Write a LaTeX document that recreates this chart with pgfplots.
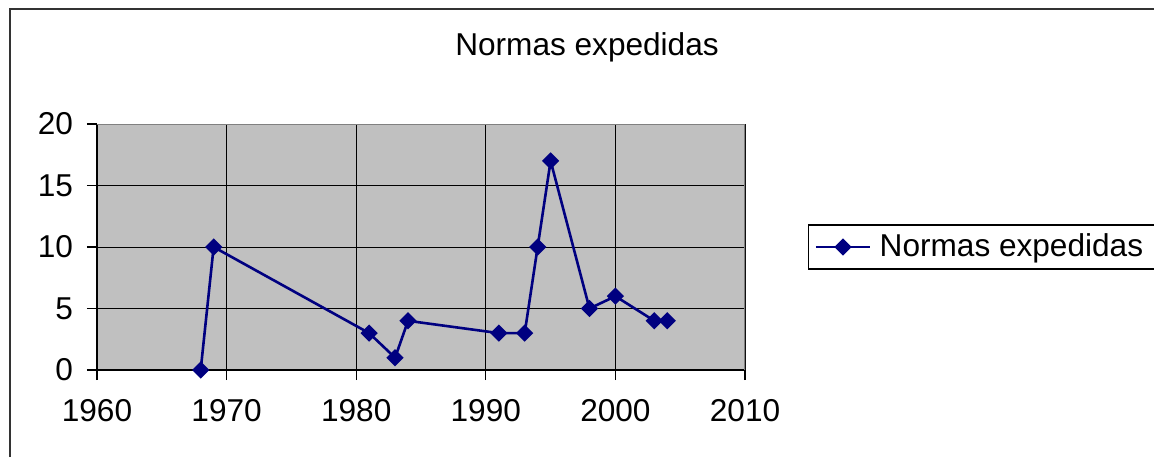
\documentclass[border=0pt]{standalone}
\usepackage{fontspec}
\setmainfont{Liberation Sans}
\usepackage{pgfplots}
\pgfplotsset{compat=1.18}
\definecolor{navyline}{HTML}{000080}
\definecolor{plotgray}{HTML}{C0C0C0}
\begin{document}
\begin{tikzpicture}
\path[use as bounding box] (-48.5pt,-43.5pt) rectangle (528.5pt,185pt);
\draw[line width=1pt, black!80] (-43.5pt,-43.5pt) -- (-43.5pt,180.5pt) -- (528.5pt,180.5pt);
\node[font=\fontsize{15.8}{18}\selectfont] at (245pt,161.5pt) {Normas expedidas};
\begin{axis}[
  at={(0,0)}, anchor=south west,
  scale only axis,
  width=324pt, height=123pt,
  xmin=1960, xmax=2010, ymin=0, ymax=20,
  xtick={1960,1970,...,2010},
  ytick={0,5,10,15,20},
  /pgf/number format/assume math mode=true,
  /pgf/number format/1000 sep={},
  ticklabel style={font=\fontsize{15.8}{18}\selectfont},
  tick align=outside,
  major tick length=5pt,
  tick style={black, line width=0.6pt},
  grid=major,
  grid style={black, line width=0.5pt},
  axis background/.style={fill=plotgray},
  axis x line*=bottom, axis y line*=left,
  separate axis lines,
  x axis line style={black, line width=0.6pt},
  y axis line style={black, line width=0.6pt},
  xticklabel style={yshift=-6pt},
  yticklabel style={xshift=-3.5pt},
  legend style={at={(1.097,0.5)}, anchor=west, draw=black, line width=0.6pt,
    font=\fontsize{15.8}{18}\selectfont, inner xsep=3pt, inner ysep=2.5pt,
    row sep=0pt, nodes={inner xsep=4pt}},
  legend cell align=left,
  legend image code/.code={
    \draw[mark repeat=2,mark phase=2] plot coordinates {(0cm,0cm)(0.48cm,0cm)(0.96cm,0cm)};
  },
]
\draw[black!50, line width=0.6pt] (rel axis cs:0,1) -- (rel axis cs:1,1) -- (rel axis cs:1,0);
\addplot[navyline, line width=1.3pt, mark=square*, mark size=2.4pt,
  mark options={rotate=45, solid, fill=navyline}] coordinates {
  (1968,0) (1969,10) (1981,3) (1983,1) (1984,4) (1991,3) (1993,3)
  (1994,10) (1995,17) (1998,5) (2000,6) (2003,4) (2004,4)
};
\addlegendentry{Normas expedidas}
\end{axis}
\end{tikzpicture}
\end{document}
